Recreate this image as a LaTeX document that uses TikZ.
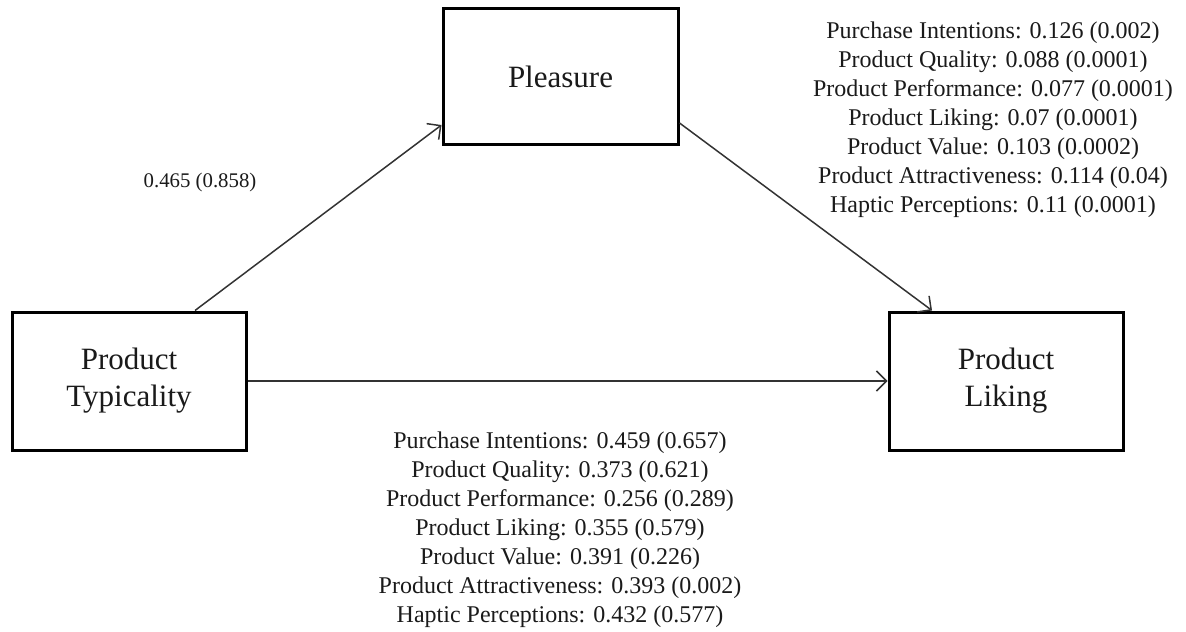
\documentclass[tikz,border=0pt]{standalone}
\usepackage{fontspec}
\setmainfont{Liberation Serif}
\usepackage{tikz}
\usetikzlibrary{
  arrows.meta,
  positioning
}
\definecolor{MedBlack}{HTML}{1A1A1A}
\colorlet{MedLine}{black!80}
\tikzset{
  >={Straight Barb[length=5pt,width=10pt]},
  every picture/.style = {line join=miter, line cap=butt},
  every node/.style = {text=MedBlack},
  construct/.style = {
    draw=black,
    fill=white,
    line width=1.5pt,
    minimum width=117pt,
    minimum height=69pt,
    align=center,
    inner sep=0pt,
    font=\fontsize{15.5}{18.5}\selectfont
  },
  effect/.style = {->, draw=MedLine, line width=0.75pt},
  coef/.style = {
    inner sep=0pt,
    font=\fontsize{10.4}{12}\selectfont
  },
  coef block/.style = {
    align=center,
    inner sep=0pt,
    font=\fontsize{12}{14.5}\selectfont
  },
}

\begin{document}
\begin{tikzpicture}[x=0.5pt,y=-0.5pt]
  \useasboundingbox (0,0) rectangle (1186,631);

  \node[construct] (typ) at (129,381) {Product\\Typicality};
  \node[construct] (lik) at (1006,381) {Product\\Liking};
  \node[construct, minimum width=117.5pt, minimum height=67.5pt] (ple) at (560.5,76.5) {Pleasure};

  \draw[effect] ([xshift=33pt]typ.north) -- ([yshift=-24.25pt]ple.west);
  \draw[effect] ([yshift=-23.25pt]ple.east) -- ([xshift=-37pt]lik.north);
  \draw[effect] (typ.east) -- (lik.west);

  \node[coef] (apath) at (200,182) {0.465 (0.858)};

  \node[coef block] (bpath) at (993,120) {
    Purchase Intentions: 0.126 (0.002)\\
    Product Quality: 0.088 (0.0001)\\
    Product Performance: 0.077 (0.0001)\\
    Product Liking: 0.07 (0.0001)\\
    Product Value: 0.103 (0.0002)\\
    Product Attractiveness: 0.114 (0.04)\\
    Haptic Perceptions: 0.11 (0.0001)};

  \node[coef block] (cpath) at (560,530) {
    Purchase Intentions: 0.459 (0.657)\\
    Product Quality: 0.373 (0.621)\\
    Product Performance: 0.256 (0.289)\\
    Product Liking: 0.355 (0.579)\\
    Product Value: 0.391 (0.226)\\
    Product Attractiveness: 0.393 (0.002)\\
    Haptic Perceptions: 0.432 (0.577)};
\end{tikzpicture}
\end{document}
